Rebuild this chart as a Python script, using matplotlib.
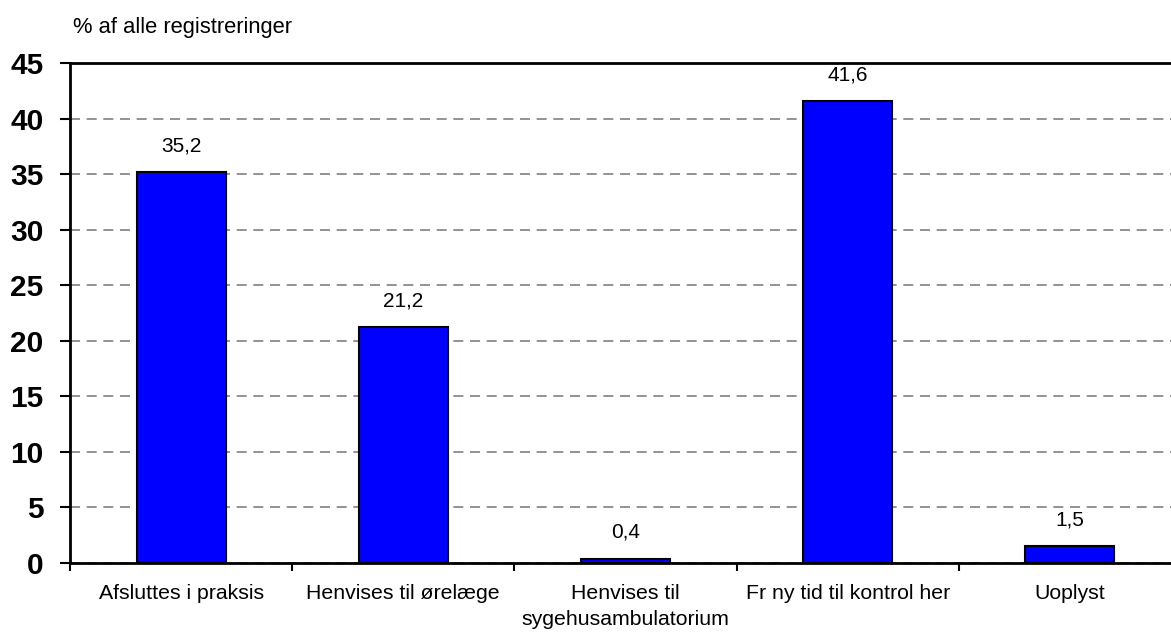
import matplotlib
matplotlib.use("Agg")
import matplotlib.pyplot as plt
import numpy as np

categories = ["Afsluttes i praksis", "Henvises til ørelæge", "Henvises til\nsygehusambulatorium",
              "Fr ny tid til kontrol her", "Uoplyst"]
values = [35.2, 21.2, 0.4, 41.6, 1.5]
value_labels = ["35,2", "21,2", "0,4", "41,6", "1,5"]
yticks = [0, 5, 10, 15, 20, 25, 30, 35, 40, 45]
ylabel = "% af alle registreringer"

plt.rcParams['font.family'] = ['Liberation Sans', 'DejaVu Sans']

W, H = 1171, 635
fig = plt.figure(figsize=(W / 100, H / 100), dpi=100)
left, right, bottom, top = 70, 1181, 563, 63
ax = fig.add_axes([left / W, 1 - bottom / H, (right - left) / W, (bottom - top) / H])

x = np.arange(len(categories))
ax.bar(x, values, width=0.4, color="#0000FF", edgecolor="black", linewidth=1.5, zorder=3)
ax.set_xlim(-0.5, len(categories) - 0.5)
ax.set_ylim(0, 45)

for xi, v, lab in zip(x, values, value_labels):
    ax.annotate(lab, (xi, v), xytext=(0, 12), textcoords="offset points",
                ha="center", va="bottom", fontsize=15)

ax.set_yticks(yticks)
ax.set_yticklabels([str(t) for t in yticks], fontsize=21.5, fontweight="bold")
ax.yaxis.grid(True, linestyle=(0, (6, 4)), color="#808080", linewidth=1.2, zorder=0)
ax.set_axisbelow(True)

ax.set_xticks(np.arange(-0.5, len(categories), 1.0))
ax.set_xticklabels([])
ax.set_xticks(x, minor=True)
ax.set_xticklabels(categories, minor=True, fontsize=15.3, linespacing=1.45)
ax.tick_params(axis="x", which="minor", length=0, pad=15)
ax.tick_params(axis="x", which="major", length=6, width=1.5, direction="out")
ax.tick_params(axis="y", length=7, width=1.5, direction="out", pad=12)

for s in ["left", "bottom", "top"]:
    ax.spines[s].set_linewidth(2)
ax.spines["right"].set_visible(False)

fig.text(73 / W, 1 - 27 / H, ylabel, fontsize=15.8, ha="left", va="center")

fig.savefig("out.png", dpi=100)
